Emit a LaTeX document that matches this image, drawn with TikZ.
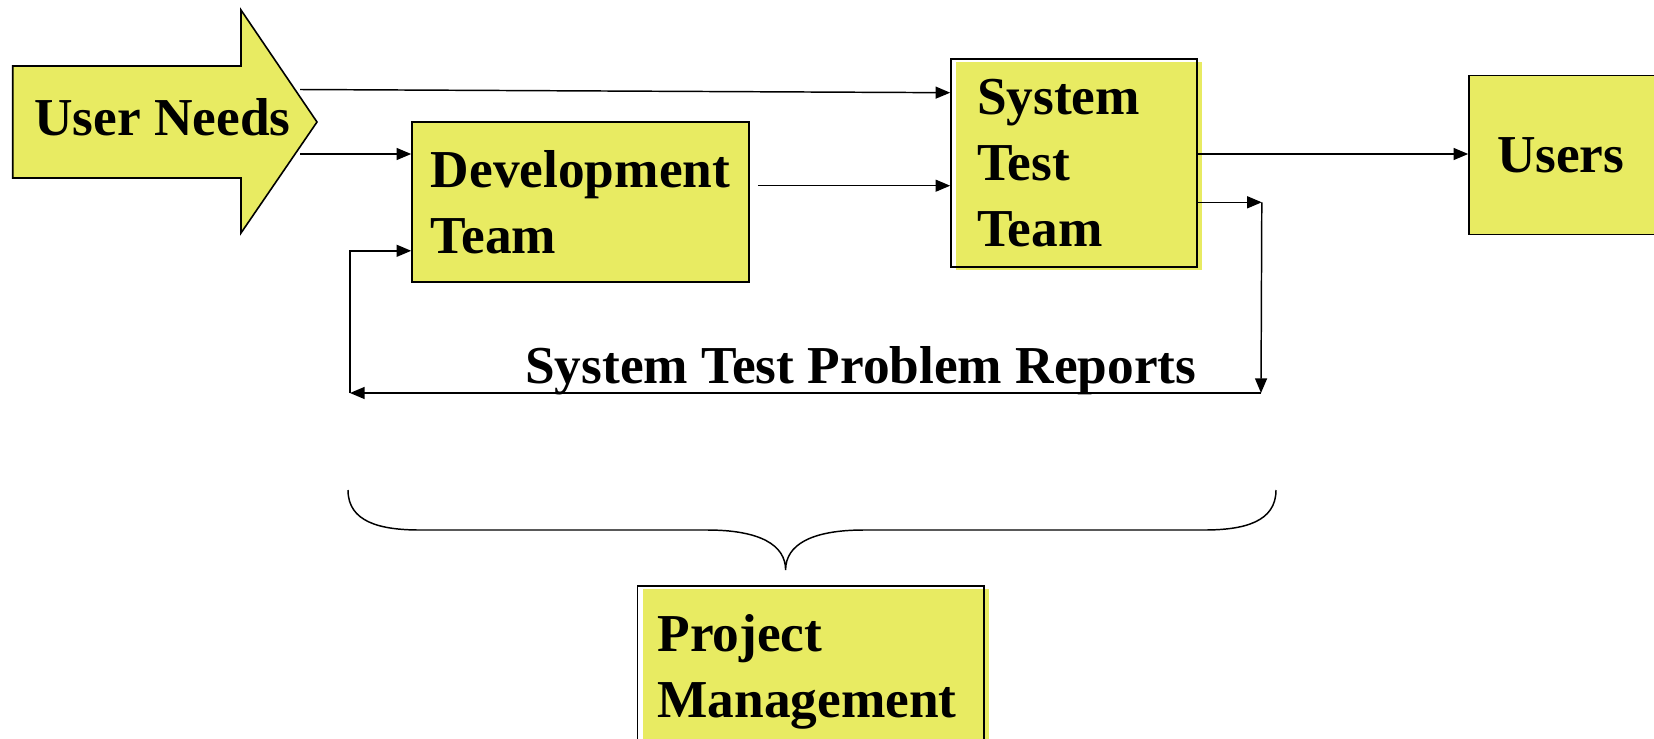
\documentclass[tikz,border=0pt]{standalone}
\usepackage{fontspec}
\setmainfont{Liberation Serif}
\usetikzlibrary{arrows.meta,calc,shadows}
\definecolor{boxyellow}{RGB}{232,235,98}
\tikzset{
  bigfont/.style={font=\bfseries\fontsize{40}{49.5}\selectfont},
  box/.style={draw, line width=1.2pt, fill=boxyellow, inner ysep=0pt, align=left, bigfont},
  shadowbox/.style={box, fill=none, general shadow={fill=boxyellow, shadow xshift=4pt, shadow yshift=-2.5pt}},
  flow/.style={line width=1.1pt, -{Triangle[length=11pt,width=9pt]}},
}

\begin{document}
\begin{tikzpicture}[x=0.75pt,y=0.75pt,yscale=-1,xscale=1]
\useasboundingbox (0,0) rectangle (1654,739);
%Big Arrow
\filldraw [fill=boxyellow, line width=1.2pt] (12.7,66) -- (241,66) -- (241,10) -- (317,122) -- (241,233) -- (241,178) -- (12.7,178) -- cycle;
% Text Node
\node [anchor=base west, inner sep=0pt, bigfont] (needs) at (34,135) {User Needs};
% Boxes
\node [box, minimum width=252.75pt, minimum height=120pt] (dev) at (580.5,202) {Development\\Team};
\node [shadowbox, text width=145.5pt, inner xsep=19.5pt, minimum height=156pt] (sys) at (1074,163) {System\\Test\\Team};
\node [box, text width=108pt, inner xsep=21pt, minimum height=119.25pt] (users) at (1569,155) {Users};
\node [shadowbox, text width=230pt, inner xsep=15pt, minimum height=129pt] (pm) at (810.75,672) {Project\\Management};
% Text Node
\node [anchor=base west, inner sep=0pt, bigfont] (reports) at (525,383) {System Test Problem Reports};
% Connector ends
\coordinate (needstop) at (300,89.5);
\coordinate (needsbot) at (300,154);
\coordinate (devout) at ($(dev.east)+(8,-16.3)$);
\coordinate (sysout) at ($(sys.east)+(0,-9)$);
\coordinate (repout) at ($(sys.east)+(0,39.3)$);
\coordinate (repcorner) at ($(repout)+(64,0)$);
\coordinate (repdown) at (1261,393);
\coordinate (repleft) at (350,393);
%Straight Lines
\draw [flow] (needstop) -- ($(sys.north west)+(0,34.5)$);
\draw [flow] (needsbot) -- (needsbot -| dev.west);
\draw [flow] (devout) -- (devout -| sys.west);
\draw [flow] (sysout) -- (sysout -| users.west);
%Feedback Lines
\draw [flow] (repout) -- (repcorner);
\draw [flow] (repcorner) -- (repdown);
\draw [flow] (repdown) -- (repleft);
\draw [flow] (repleft) |- ($(dev.south west)+(0,-32)$);
%Brace
\draw [line width=1.1pt] (348,490) .. controls (348,522) and (380,530) .. (420,530) -- (707,530) .. controls (760,530) and (785.6,545) .. (785.6,570) .. controls (785.6,545) and (811,530) .. (864,530) -- (1204,530) .. controls (1244,530) and (1276,522) .. (1276,490);
\end{tikzpicture}
\end{document}
